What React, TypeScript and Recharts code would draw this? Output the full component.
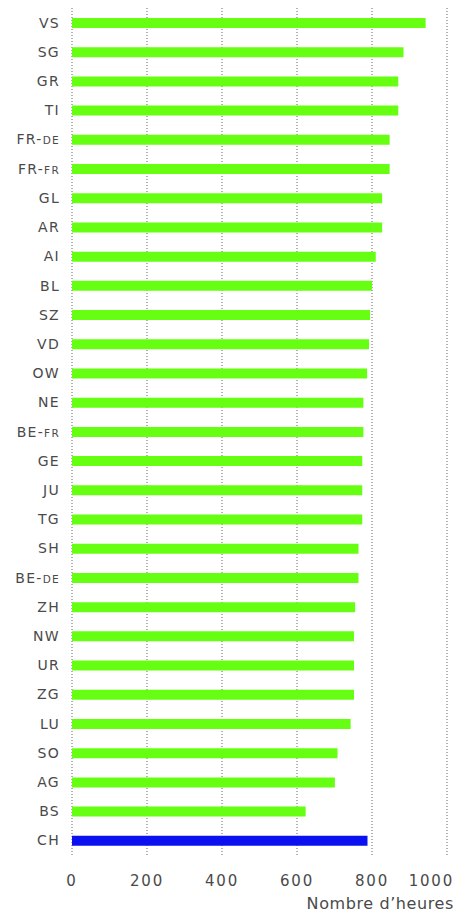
import React from "react";
import { BarChart, Bar, XAxis, YAxis, CartesianGrid, Cell } from "recharts";

const cantons = ["VS","SG","GR","TI","FR-DE","FR-FR","GL","AR","AI","BL","SZ","VD","OW","NE","BE-FR","GE","JU","TG","SH","BE-DE","ZH","NW","UR","ZG","LU","SO","AG","BS","CH"];
const hours = [943,884,870,870,847,847,827,827,810,800,795,792,787,777,777,774,774,774,764,764,755,752,752,752,743,708,701,623,788];
const xTicks = [0,200,400,600,800,1000];
const xLabel = "Nombre d\u2019heures";
const highlight = "CH";

const data = cantons.map((c, i) => ({ canton: c, hours: hours[i] }));

const FONT = "'DejaVu Sans', sans-serif";

const YTick = (props: any) => {
  const { x, y, payload } = props;
  const v: string = payload.value;
  const parts = v.split("-");
  return (
    <text x={x} y={y} dy="0.36em" textAnchor="end" fill="#4a4a4a" fontFamily={FONT} fontSize={14} letterSpacing={1.3}>
      <tspan>{parts[0]}</tspan>
      {parts.length > 1 ? <tspan>-</tspan> : null}
      {parts.length > 1 ? <tspan fontSize={10.5}>{parts[1]}</tspan> : null}
    </text>
  );
};

const XTick = (props: any) => {
  const { x, y, payload } = props;
  const last = payload.value === xTicks[xTicks.length - 1];
  return (
    <text
      x={last ? x + 7 : x}
      y={y}
      dy={25}
      textAnchor={last ? "end" : "middle"}
      fill="#4a4a4a"
      fontFamily={FONT}
      fontSize={15}
      letterSpacing={1.8}
    >
      {payload.value}
    </text>
  );
};

export default function App() {
  return (
    <div style={{ position: "absolute", left: 0, top: 0, background: "#fff" }}>
      <BarChart
        width={462}
        height={912}
        data={data}
        layout="vertical"
        margin={{ top: 8, right: 15, bottom: 0, left: 0 }}
        barCategoryGap={0}
      >
        <CartesianGrid horizontal={false} vertical={true} stroke="#666" strokeDasharray="1 2" />
        <XAxis
          type="number"
          domain={[0, 1000]}
          ticks={xTicks}
          axisLine={false}
          tickLine={false}
          tickSize={0}
          tickMargin={6}
          height={57}
          tick={<XTick />}
          interval={0}
          label={{
            content: (p: any) => {
              const vb = p.viewBox;
              return (
                <text x={vb.x + vb.width + 7} y={vb.y + 54} textAnchor="end" fill="#4a4a4a" fontFamily={FONT} fontSize={16} letterSpacing={0.6}>
                  {xLabel}
                </text>
              );
            },
          }}
        />
        <YAxis
          type="category"
          dataKey="canton"
          width={72}
          axisLine={false}
          tickLine={false}
          tickSize={0}
          tickMargin={12}
          interval={0}
          tick={<YTick />}
        />
        <Bar dataKey="hours" barSize={10} isAnimationActive={false}>
          {data.map((d) => (
            <Cell key={d.canton} fill={d.canton === highlight ? "#0a10f0" : "#66ff11"} />
          ))}
        </Bar>
      </BarChart>
    </div>
  );
}
